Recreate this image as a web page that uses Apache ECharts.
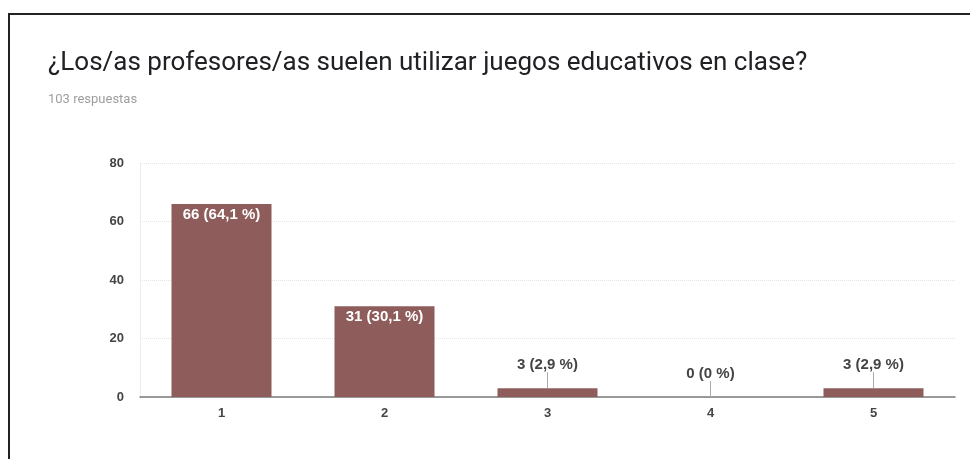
<!DOCTYPE html>
<html>
<head>
<meta charset="utf-8">
<script src="https://cdn.jsdelivr.net/npm/echarts@6/dist/echarts.min.js"></script>
<style>
  html, body { margin: 0; padding: 0; background: #fff; }
  #chart { width: 970px; height: 459px; }
</style>
</head>
<body>
<div id="chart"></div>
<script>
  // opciones de respuesta y recuentos
  var categories = ['1', '2', '3', '4', '5']
  var counts = [66, 31, 3, 0, 3]
  var percents = ['64,1', '30,1', '2,9', '0', '2,9']
  var yTicks = [0, 20, 40, 60, 80]

  var titleText = '¿Los/as profesores/as suelen utilizar juegos educativos en clase?'
  var subText = '103 respuestas'

  var myChart = echarts.init(document.getElementById('chart'))
  window.onresize = myChart.resize

  var labelFont = 'Arial, "Liberation Sans", sans-serif'

  var barData = counts.map(function (v, i) {
    var big = v > 10
    return {
      value: v,
      label: big ? {
        position: 'insideTop',
        distance: 3,
        color: '#fff'
      } : {
        position: 'top',
        distance: 2,
        color: '#444'
      },
      labelLine: { show: !big }
    }
  })

  var option = {
    animation: false,
    title: {
      text: titleText,
      subtext: subText,
      left: 43,
      top: 45,
      itemGap: 17,
      textStyle: {
        fontFamily: 'Roboto',
        fontSize: 26,
        fontWeight: 'normal',
        color: '#202124'
      },
      subtextStyle: {
        fontFamily: 'Roboto',
        fontSize: 13,
        color: '#9e9e9e'
      }
    },
    grid: {
      left: 140,
      right: 15,
      top: 163,
      bottom: 62,
      containLabel: false
    },
    xAxis: {
      type: 'category',
      data: categories,
      axisLine: { show: true, lineStyle: { color: '#7a7a7a', width: 1.5 } },
      axisTick: { show: false },
      axisLabel: {
        margin: 10,
        color: '#444',
        fontSize: 13,
        fontWeight: 'bold',
        fontFamily: labelFont
      }
    },
    yAxis: {
      type: 'value',
      min: yTicks[0],
      max: yTicks[yTicks.length - 1],
      interval: 20,
      axisLine: { show: true, lineStyle: { color: '#e8e8e8', type: 'dotted' } },
      axisTick: { show: false },
      axisLabel: {
        margin: 16,
        color: '#444',
        fontSize: 13,
        fontWeight: 'bold',
        fontFamily: labelFont
      },
      splitLine: { show: true, lineStyle: { color: '#e4e4e4', type: 'dotted' } }
    },
    series: [{
      type: 'bar',
      data: barData,
      barWidth: 100,
      itemStyle: {
        color: '#8e5c5b'
      },
      label: {
        show: true,
        fontSize: 15,
        fontWeight: 'bold',
        fontFamily: labelFont,
        formatter: function (p) {
          return counts[p.dataIndex] + ' (' + percents[p.dataIndex] + ' %)'
        }
      },
      labelLayout: function (p) {
        if (counts[p.dataIndex] > 10) return {}
        return { dy: -14 }
      },
      labelLine: {
        show: true,
        length2: 0,
        lineStyle: { color: '#aaa', width: 1 }
      }
    }],
    graphic: [{
      type: 'polyline',
      shape: { points: [[9, 470], [9, 14], [980, 14]] },
      style: { stroke: '#222', lineWidth: 2, fill: null }
    }]
  }
  myChart.setOption(option)
</script>
</body>
</html>
